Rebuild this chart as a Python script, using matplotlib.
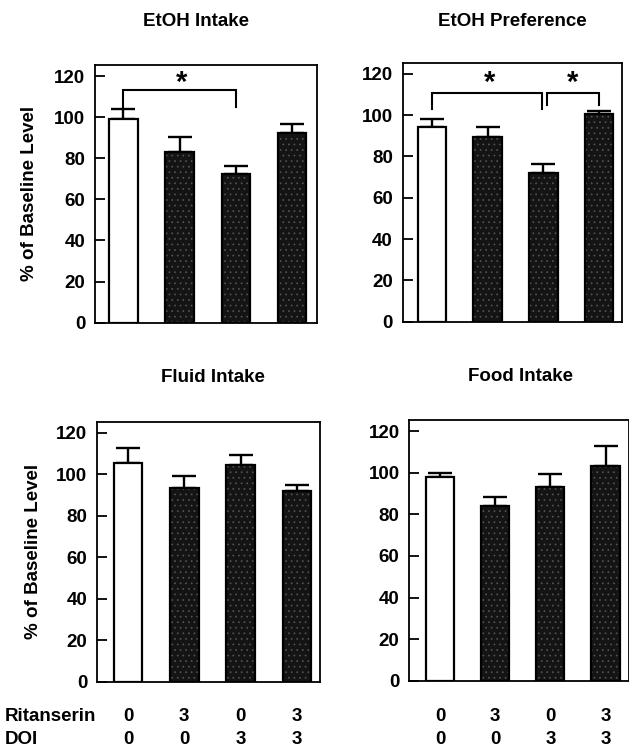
import matplotlib
matplotlib.use("Agg")
import matplotlib.pyplot as plt
import matplotlib.transforms as mtransforms

plt.rcParams['font.family'] = ['Liberation Sans', 'DejaVu Sans']
plt.rcParams['font.weight'] = 'bold'
plt.rcParams['hatch.linewidth'] = 0.5

# ---- data ----
groups = ["0/0", "3/0", "0/3", "3/3"]
ritanserin = ["0", "3", "0", "3"]
doi = ["0", "0", "3", "3"]

titles = ["EtOH Intake", "EtOH Preference", "Fluid Intake", "Food Intake"]

etoh_intake_mean = [99.0, 83.2, 72.4, 92.4]
etoh_intake_sem = [5.0, 7.3, 4.0, 4.1]

etoh_pref_mean = [94.5, 89.4, 72.0, 100.5]
etoh_pref_sem = [3.5, 5.0, 4.2, 1.6]

fluid_mean = [105.7, 93.3, 104.4, 91.9]
fluid_sem = [6.8, 5.8, 4.9, 3.2]

food_mean = [97.8, 84.0, 93.1, 103.2]
food_sem = [2.2, 4.3, 6.1, 9.6]

# significance brackets: (x_start, x_end, y_top, y_left_end, y_right_end, star_x, star_y)
sig_etoh_intake = [(0.0, 2.0, 113.2, 103.8, 105.0, 1.03, 116.5)]
sig_etoh_pref = [(0.0, 1.98, 110.7, 103.2, 103.2, 1.03, 115.8),
                 (2.06, 3.0, 110.7, 104.7, 104.7, 2.53, 115.8)]

ylabel = "% of Baseline Level"
yticks = [0, 20, 40, 60, 80, 100, 120]

# ---- layout ----
W, H = 629, 751
fig = plt.figure(figsize=(W / 100, H / 100), dpi=100)

positions = [
    [95 / W, 1 - 322.7 / H, 222 / W, 257.7 / H],
    [402.7 / W, 1 - 321.7 / H, 219.3 / W, 259 / H],
    [97 / W, 1 - 681.7 / H, 223 / W, 260 / H],
    [409.3 / W, 1 - 680.7 / H, 219.4 / W, 260.7 / H],
]
xlims = [(-0.507, 3.443), (-0.526, 3.413), (-0.55, 3.41), (-0.557, 3.42)]
title_xy = [(196, 22), (512, 22), (213, 377), (520, 376)]

means = [etoh_intake_mean, etoh_pref_mean, fluid_mean, food_mean]
sems = [etoh_intake_sem, etoh_pref_sem, fluid_sem, food_sem]
sigs = [sig_etoh_intake, sig_etoh_pref, [], []]

x = list(range(len(groups)))
face = ['white', '#141414', '#141414', '#141414']
hatches = ['', '...', '...', '...']

for i in range(4):
    ax = fig.add_axes(positions[i])
    m = means[i]
    s = sems[i]
    # fill with stipple
    for xi, mi, fc, h in zip(x, m, face, hatches):
        ax.bar(xi, mi, width=0.51, color=fc, edgecolor='#555555' if h else fc,
               hatch=h, linewidth=0, zorder=2)
    ax.bar(x, m, width=0.51, fill=False, edgecolor='black', linewidth=1.6, zorder=3)
    ax.errorbar(x, m, yerr=[[0] * 4, s], fmt='none', ecolor='black',
                elinewidth=1.7, capsize=8.5, capthick=1.7, zorder=1)

    for (x1, x2, yt, yl, yr, sx, sy) in sigs[i]:
        ax.plot([x1, x1, x2, x2], [yl, yt, yt, yr], color='black', lw=1.5,
                solid_joinstyle='miter', zorder=4)
        ax.text(sx, sy, '*', ha='center', va='center', fontsize=21,
                fontweight='bold', zorder=5)

    ax.set_ylim(0, 125.4)
    ax.set_xlim(*xlims[i])
    ax.set_yticks(yticks)
    ax.set_yticklabels([str(t) for t in yticks])
    ax.set_xticks([])
    ax.tick_params(axis='y', direction='in', length=7, width=1.3, pad=7,
                   labelsize=13.5)
    for lab in ax.get_yticklabels():
        lab.set_fontweight('bold')
    for sp in ax.spines.values():
        sp.set_linewidth(1.3)

    tx, ty = title_xy[i]
    fig.text(tx / W, 1 - ty / H, titles[i], ha='center', va='center',
             fontsize=13.5, fontweight='bold')

    if i in (0, 2):
        ax.set_ylabel(ylabel, fontsize=13.5, fontweight='bold')
        ax.yaxis.set_label_coords(-0.255 if i == 0 else -0.245, 0.5)

    if i in (2, 3):
        trans = mtransforms.blended_transform_factory(ax.transData, fig.transFigure)
        for xi, r, d in zip(x, ritanserin, doi):
            ax.text(xi, 1 - 716.5 / H, r, transform=trans, ha='center', va='center',
                    fontsize=13.5, fontweight='bold', clip_on=False)
            ax.text(xi, 1 - 740 / H, d, transform=trans, ha='center', va='center',
                    fontsize=13.5, fontweight='bold', clip_on=False)

fig.text(5 / W, 1 - 716.5 / H, "Ritanserin", ha='left', va='center',
         fontsize=13.5, fontweight='bold')
fig.text(5 / W, 1 - 740 / H, "DOI", ha='left', va='center',
         fontsize=13.5, fontweight='bold')

fig.savefig("out.png", dpi=100, facecolor='white')
